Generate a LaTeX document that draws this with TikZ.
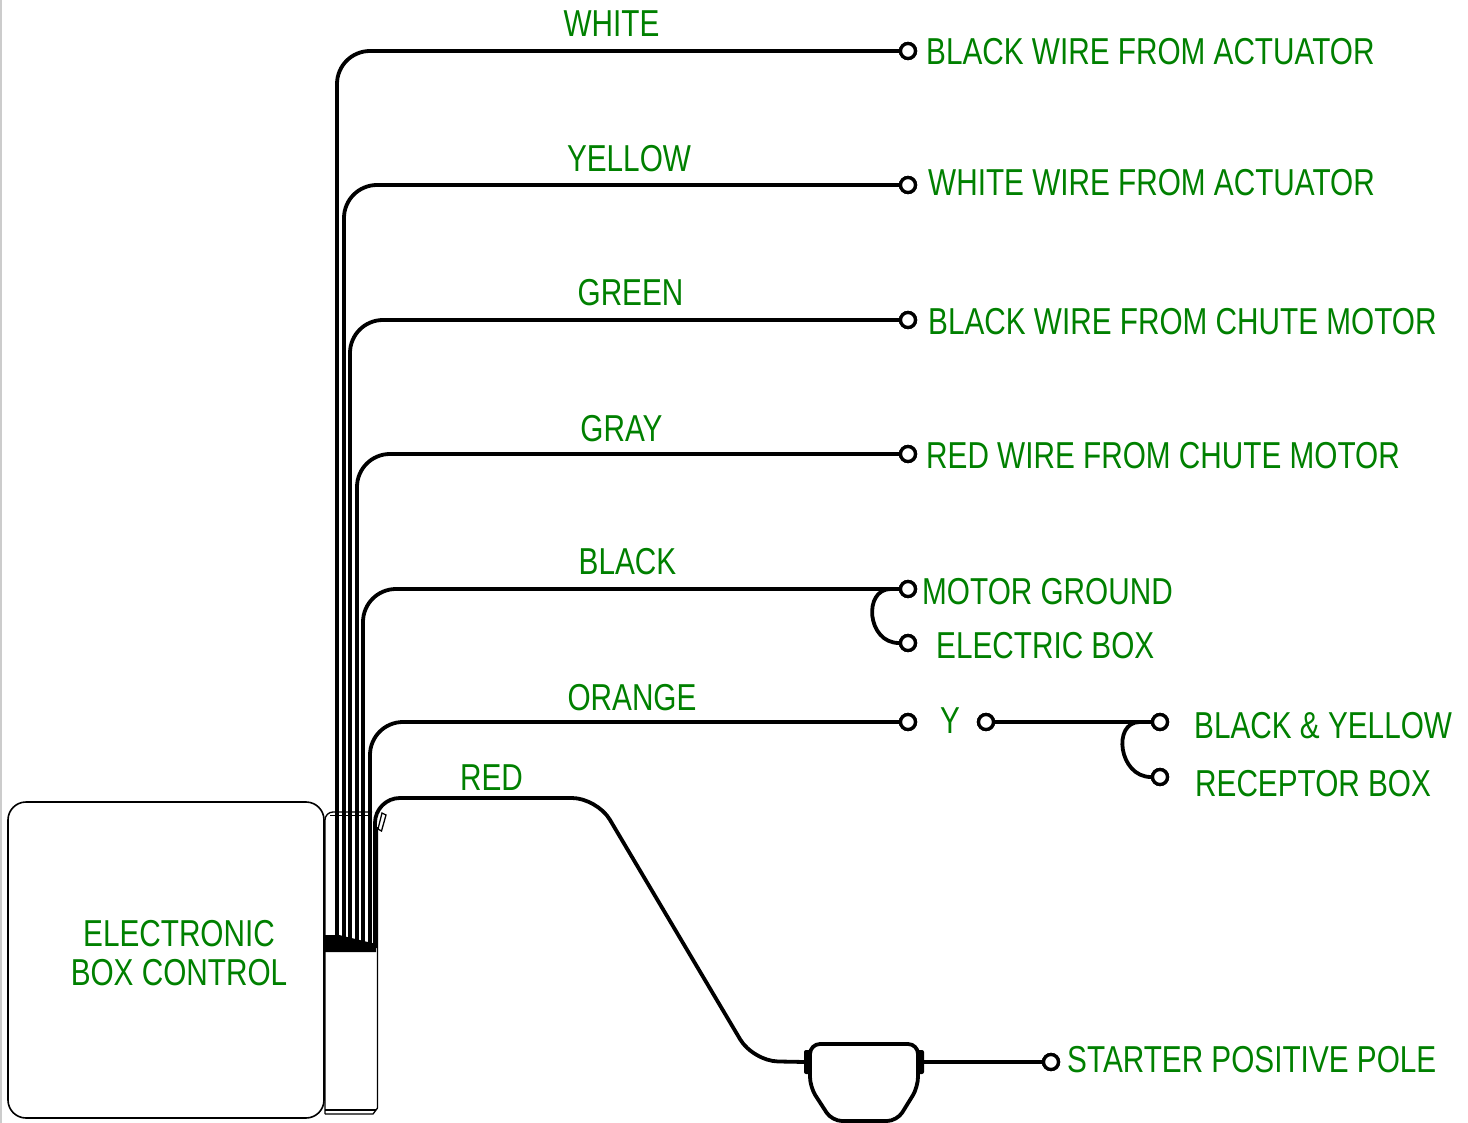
\documentclass[tikz,border=0pt]{standalone}
\usepackage{fontspec}
\setmainfont{Liberation Sans}[FakeStretch=0.793]
\definecolor{lab}{RGB}{0,128,0}
\begin{document}
\begin{tikzpicture}[x=1pt,y=-1pt,
  wire/.style={line width=3.8pt, line join=round},
  term/.style={circle, draw, fill=white, line width=3.3pt, minimum size=15pt, inner sep=0pt},
  lbl/.style={text=lab, font=\fontsize{37.5}{39}\selectfont, inner sep=0pt},
  thinline/.style={line width=1.3pt}]
\useasboundingbox (0,0) rectangle (1468,1123);
\draw[gray!40, line width=1.5pt] (1,0) -- (1,1123);

% electronic box
\node[draw, line width=1.6pt, rounded corners=18pt, minimum width=316pt, minimum height=316pt, inner sep=0pt] (ebox) at (166,960) {};
\node[lbl, align=center] (ebl) at (179,953.5) {ELECTRONIC\\BOX CONTROL};

% connector housing
\draw[thinline, rounded corners=8pt] (325,1114) -- (325,812) -- (372,812);
\draw[thinline] (330,815.5) -- (370,815.5);
\draw[thinline] (377.5,827) -- (377.5,1108) -- (373,1114) -- (325,1114);
\draw[thinline] (325,1110) -- (376,1110);
\draw[thinline] (378,829) -- (382,813) -- (386,815) -- (381.5,831) -- cycle;

% terminals
\node[term] (t1) at (908,51) {};
\node[term] (t2) at (908,185) {};
\node[term] (t3) at (908,320) {};
\node[term] (t4) at (908,454) {};
\node[term] (t5) at (908,589) {};
\node[term] (t5b) at (908,643) {};
\node[term] (t6) at (908,722) {};
\node[term] (t6b) at (986,722) {};
\node[term] (t7) at (1160,722) {};
\node[term] (t7b) at (1160,777) {};
\node[term] (t8) at (1051,1062) {};

% wire start points
\coordinate (s1) at (337,944);
\coordinate (s2) at (344,945);
\coordinate (s3) at (350,945);
\coordinate (s4) at (357,946);
\coordinate (s5) at (363,946);
\coordinate (s6) at (370,947);
\coordinate (s7) at (375,948);

\draw[wire, rounded corners=33pt] (s1) |- (t1.west);
\draw[wire, rounded corners=33pt] (s2) |- (t2.west);
\draw[wire, rounded corners=33pt] (s3) |- (t3.west);
\draw[wire, rounded corners=33pt] (s4) |- (t4.west);
\draw[wire, rounded corners=33pt] (s5) |- (t5.west);
\draw[wire, rounded corners=33pt] (s6) |- (t6.west);

% termination bar
\fill (323,935) -- (339,935) -- (376,944) -- (376,952) -- (323,952) -- cycle;

% fuse holder
\draw[line width=3.8pt, line join=round, rounded corners=10pt] (832,1121) -- (810,1087) -- (810,1044) -- (918,1044) -- (918,1087) -- (897,1121) -- cycle;
\fill[rounded corners=2pt] (804,1050) rectangle (811,1074);
\fill[rounded corners=2pt] (917,1050) rectangle (924,1074);
\coordinate (fw) at (805,1062);
\coordinate (fe) at (923,1062);

% red wire
\draw[wire, rounded corners=25pt] (s7) -- (375,798) -- (597,798) -- (753,1061) -- (fw);
\draw[wire] (fe) -- (t8.west);

% ground and receptor jumpers
\draw[wire] ([xshift=-8pt]t5.west) .. controls +(-28,0) and +(-32,0) .. (t5b.west);
\draw[wire] (t6b.east) -- (t7.west);
\draw[wire] ([xshift=-11pt]t7.west) .. controls +(-28,0) and +(-32,0) .. (t7b.west);

% redraw terminals on top
\foreach \p in {(908,51),(908,185),(908,320),(908,454),(908,589),(908,643),(908,722),(986,722),(1160,722),(1160,777),(1051,1062)}
  \node[term] at \p {};

% wire colour labels
\node[lbl, anchor=base] (lw) at (611.5,37) {WHITE};
\node[lbl, anchor=base] (ly) at (629,172) {YELLOW};
\node[lbl, anchor=base] (lg) at (630.5,306) {GREEN};
\node[lbl, anchor=base] (lgr) at (621.5,441) {GRAY};
\node[lbl, anchor=base] (lb) at (627.5,574) {BLACK};
\node[lbl, anchor=base] (lo) at (632,710) {ORANGE};
\node[lbl, anchor=base] (lr) at (491.5,790) {RED};

% destination labels
\node[lbl, anchor=base west] (d1) at (926,65) {BLACK WIRE FROM ACTUATOR};
\node[lbl, anchor=base west] (d2) at (928,196) {WHITE WIRE FROM ACTUATOR};
\node[lbl, anchor=base west] (d3) at (928,335) {BLACK WIRE FROM CHUTE MOTOR};
\node[lbl, anchor=base west] (d4) at (926,468) {RED WIRE FROM CHUTE MOTOR};
\node[lbl, anchor=base west] (d5) at (922,604) {MOTOR GROUND};
\node[lbl, anchor=base west] (d5b) at (936,658) {ELECTRIC BOX};
\node[lbl, anchor=base] (dy) at (950,733) {Y};
\node[lbl, anchor=base west] (d7) at (1194,738) {BLACK \& YELLOW};
\node[lbl, anchor=base west] (d7b) at (1195,796) {RECEPTOR BOX};
\node[lbl, anchor=base west] (d8) at (1067,1072) {STARTER POSITIVE POLE};
\end{tikzpicture}
\end{document}
